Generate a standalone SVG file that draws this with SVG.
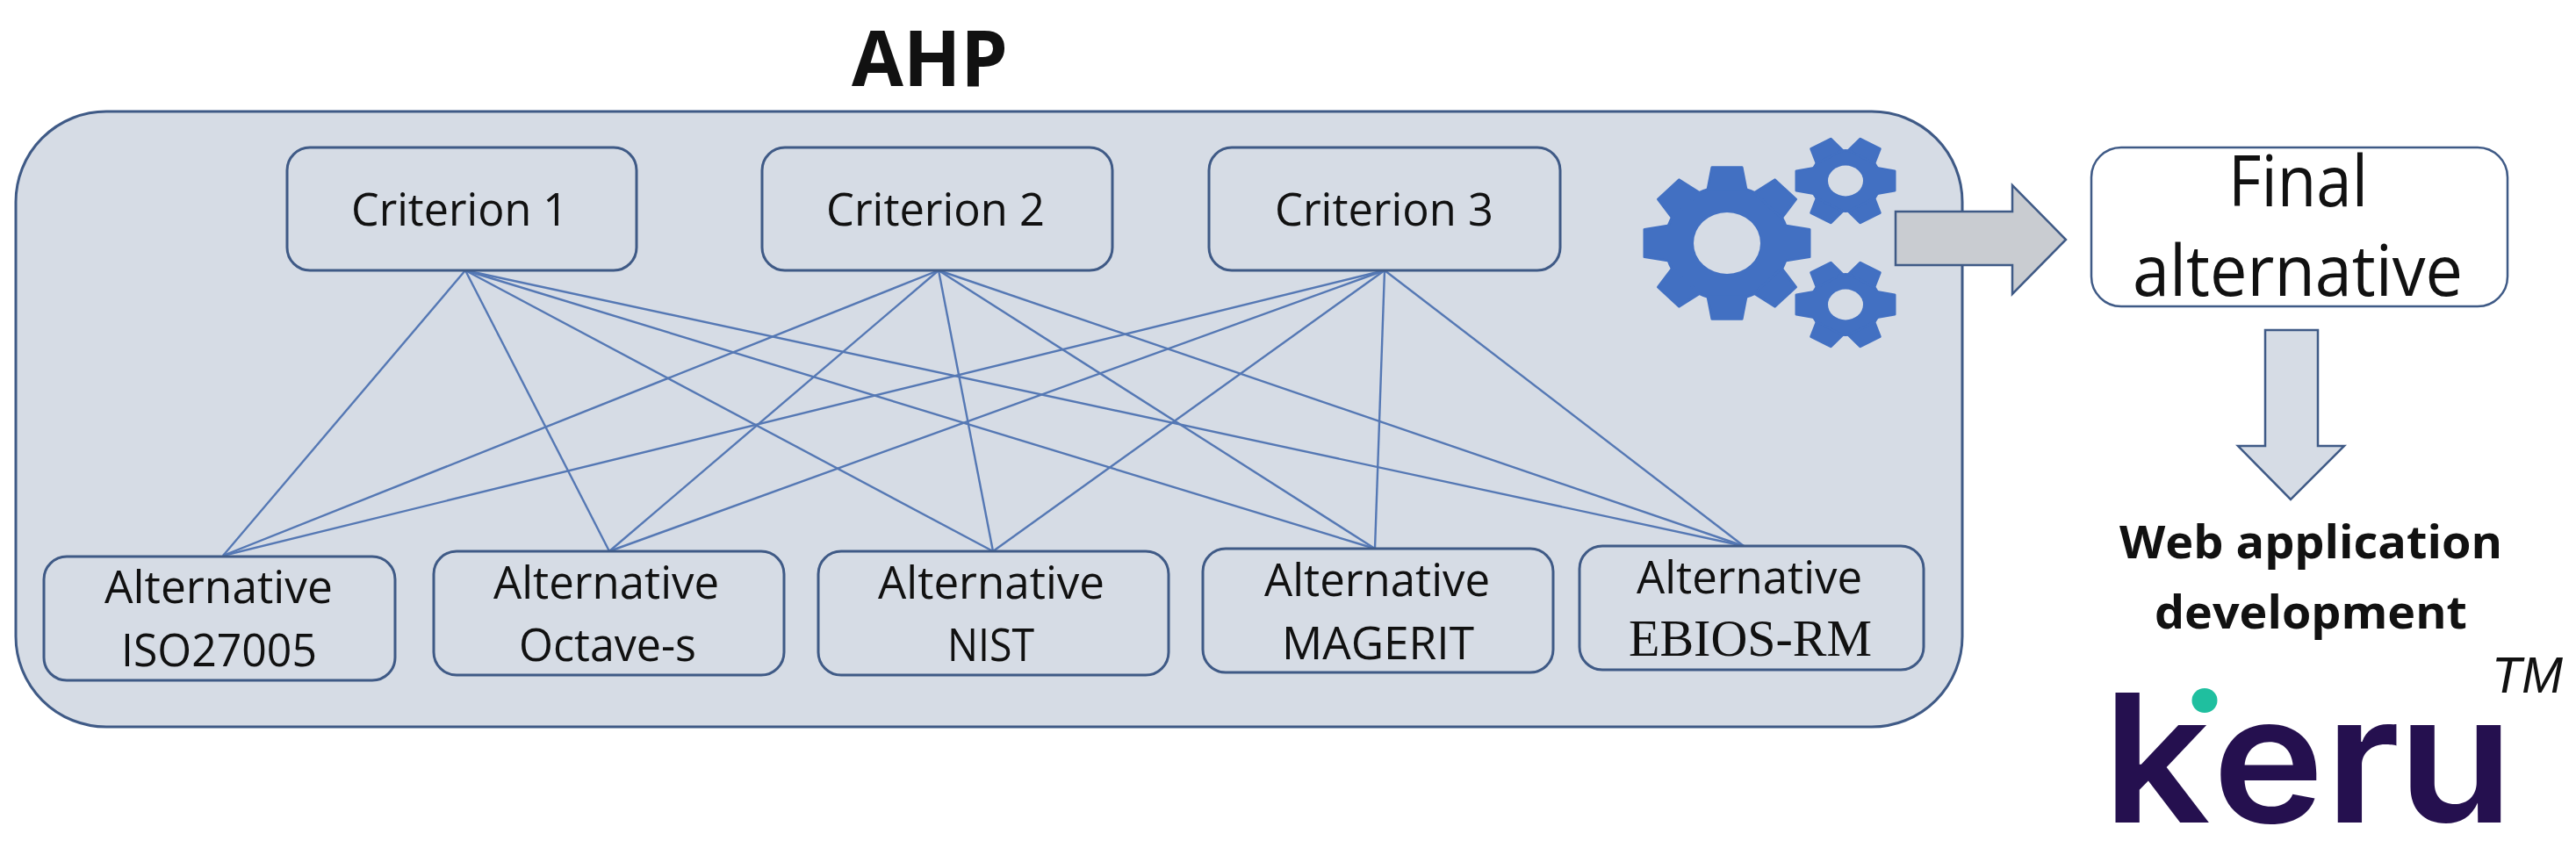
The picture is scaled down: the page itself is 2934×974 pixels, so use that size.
<svg xmlns="http://www.w3.org/2000/svg" xmlns:xlink="http://www.w3.org/1999/xlink" width="2934" height="974" viewBox="0 0 2934 974">
<style>
.box{fill:#d6dce5;stroke:#3f5a86;stroke-width:3}
.t{font-family:"Open Sans","Noto Sans","Liberation Sans",sans-serif;fill:#111;text-anchor:start}
.s{font-size:51px}
.b{font-weight:700}
.c line{stroke:#5578b4;stroke-width:2.4}
.g{fill:#4270c2;stroke:#4270c2;stroke-width:3;stroke-linejoin:round}
.h{fill:#d6dce5}
</style>
<defs>
<g id="big"><circle r="70" class="g"/><polygon id="bt" class="g" points="-22,-66 -17,-94 17,-94 22,-66"/>
<use xlink:href="#bt" transform="rotate(45)"/><use xlink:href="#bt" transform="rotate(90)"/><use xlink:href="#bt" transform="rotate(135)"/><use xlink:href="#bt" transform="rotate(180)"/><use xlink:href="#bt" transform="rotate(225)"/><use xlink:href="#bt" transform="rotate(270)"/><use xlink:href="#bt" transform="rotate(315)"/>
<circle r="38" class="h"/></g>
<g id="small"><circle r="40" class="g"/><polygon id="st" class="g" points="-17,-36 -13,-56 13,-56 17,-36" transform="rotate(90)"/>
<use xlink:href="#st" transform="rotate(60)"/><use xlink:href="#st" transform="rotate(120)"/><use xlink:href="#st" transform="rotate(180)"/><use xlink:href="#st" transform="rotate(240)"/><use xlink:href="#st" transform="rotate(300)"/>
<circle r="20" class="h"/></g>
</defs>
<rect width="2934" height="974" fill="#fff"/>
<g id="title"><text class="t b" x="970" y="98" font-size="88" textLength="178" lengthAdjust="spacingAndGlyphs">AHP</text></g>
<g id="ahp"><rect class="box" x="18" y="127" width="2217" height="701" rx="103" ry="103"/></g>
<g id="connectors" class="c">
<line x1="530" y1="308" x2="254" y2="633"/><line x1="530" y1="308" x2="694" y2="628"/><line x1="530" y1="308" x2="1131" y2="628"/><line x1="530" y1="308" x2="1566" y2="625"/><line x1="530" y1="308" x2="1986" y2="622"/>
<line x1="1069" y1="308" x2="254" y2="633"/><line x1="1069" y1="308" x2="694" y2="628"/><line x1="1069" y1="308" x2="1131" y2="628"/><line x1="1069" y1="308" x2="1566" y2="625"/><line x1="1069" y1="308" x2="1986" y2="622"/>
<line x1="1577" y1="308" x2="254" y2="633"/><line x1="1577" y1="308" x2="694" y2="628"/><line x1="1577" y1="308" x2="1131" y2="628"/><line x1="1577" y1="308" x2="1566" y2="625"/><line x1="1577" y1="308" x2="1986" y2="622"/>
</g>
<g id="criterion1"><rect class="box" x="327" y="168" width="398" height="140" rx="26"/><text class="t s" x="400" y="257" textLength="247" lengthAdjust="spacingAndGlyphs">Criterion 1</text></g>
<g id="criterion2"><rect class="box" x="868" y="168" width="399" height="140" rx="26"/><text class="t s" x="941" y="257" textLength="249" lengthAdjust="spacingAndGlyphs">Criterion 2</text></g>
<g id="criterion3"><rect class="box" x="1377" y="168" width="400" height="140" rx="26"/><text class="t s" x="1452" y="257" textLength="249" lengthAdjust="spacingAndGlyphs">Criterion 3</text></g>
<g id="alt-iso"><rect class="box" x="50" y="634" width="400" height="141" rx="26"/><text class="t s" x="119" y="687" textLength="260" lengthAdjust="spacingAndGlyphs">Alternative</text><text class="t s" x="138" y="759" textLength="223" lengthAdjust="spacingAndGlyphs">ISO27005</text></g>
<g id="alt-octave"><rect class="box" x="494" y="628" width="399" height="141" rx="26"/><text class="t s" x="562" y="682" textLength="257" lengthAdjust="spacingAndGlyphs">Alternative</text><text class="t s" x="591" y="753" textLength="202" lengthAdjust="spacingAndGlyphs">Octave-s</text></g>
<g id="alt-nist"><rect class="box" x="932" y="628" width="399" height="141" rx="26"/><text class="t s" x="1000" y="682" textLength="258" lengthAdjust="spacingAndGlyphs">Alternative</text><text class="t s" x="1079" y="753" textLength="99" lengthAdjust="spacingAndGlyphs">NIST</text></g>
<g id="alt-magerit"><rect class="box" x="1370" y="625" width="399" height="141" rx="26"/><text class="t s" x="1440" y="679" textLength="257" lengthAdjust="spacingAndGlyphs">Alternative</text><text class="t s" x="1460" y="751" textLength="219" lengthAdjust="spacingAndGlyphs">MAGERIT</text></g>
<g id="alt-ebios"><rect class="box" x="1799" y="622" width="392" height="141" rx="26"/><text class="t s" x="1864" y="676" textLength="257" lengthAdjust="spacingAndGlyphs">Alternative</text><text x="1855" y="747" font-family="'Liberation Serif',serif" font-size="60" fill="#111" textLength="277" lengthAdjust="spacingAndGlyphs">EBIOS-RM</text></g>
<g id="gears"><use xlink:href="#big" transform="translate(1967 277) scale(1 .92)"/><use xlink:href="#small" transform="translate(2102 206) scale(1 .87)"/><use xlink:href="#small" transform="translate(2102 347) scale(1 .87)"/></g>
<g id="arrow-right"><polygon points="2159,241 2292,241 2292,211 2353,273 2292,335 2292,302 2159,302" fill="#c9ccd1" stroke="#3f5a86" stroke-width="2.5"/></g>
<g id="final"><rect x="2382" y="168" width="474" height="181" rx="34" fill="#fff" stroke="#3f5a86" stroke-width="2.5"/><text class="t" x="2538" y="235" font-size="80" textLength="159" lengthAdjust="spacingAndGlyphs">Final</text><text class="t" x="2429" y="337" font-size="80" textLength="376" lengthAdjust="spacingAndGlyphs">alternative</text></g>
<g id="arrow-down"><polygon points="2580,376 2640,376 2640,508 2670,508 2609,569 2549,508 2580,508" fill="#d6dce5" stroke="#3f5a86" stroke-width="2.5"/></g>
<g id="web"><text class="t b" x="2414" y="636" font-size="52" textLength="436" lengthAdjust="spacingAndGlyphs">Web application</text><text class="t b" x="2454" y="716" font-size="52" textLength="356" lengthAdjust="spacingAndGlyphs">development</text></g>
<g id="keru"><text transform="translate(2395 937) scale(1.06 1)" x="0 118 239 317" y="0" font-family="Inter,'Liberation Sans',sans-serif" font-weight="600" font-size="203" fill="#25104f">keru</text><ellipse cx="2511" cy="798" rx="14.5" ry="14" fill="#1fbf9f"/><text x="2838" y="789" font-family="'Liberation Sans',sans-serif" font-style="italic" font-size="57" fill="#111" textLength="81" lengthAdjust="spacingAndGlyphs">TM</text></g>
</svg>
